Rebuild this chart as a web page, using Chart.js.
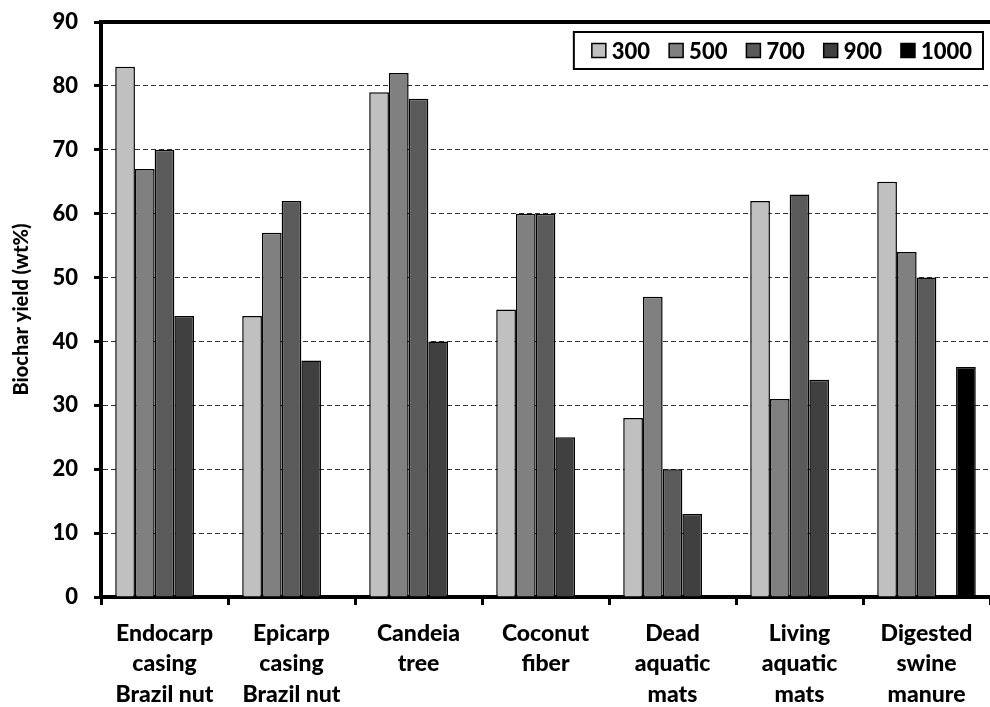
<!DOCTYPE html>
<html>
<head>
<meta charset="utf-8">
<script src="https://cdn.jsdelivr.net/npm/chart.js@4.4.1/dist/chart.umd.min.js"></script>
<style>
  html, body { margin: 0; padding: 0; background: #fff; }
  #wrap { width: 990px; height: 707px; }
</style>
</head>
<body>
<div id="wrap"><canvas id="c" width="990" height="707"></canvas></div>
<script>
// Feedstocks (multi-line category labels)
const feedstocks = [
  ['Endocarp', 'casing', 'Brazil nut'],
  ['Epicarp', 'casing', 'Brazil nut'],
  ['Candeia', 'tree'],
  ['Coconut', 'fiber'],
  ['Dead', 'aquatic', 'mats'],
  ['Living', 'aquatic', 'mats'],
  ['Digested', 'swine', 'manure']
];

// Pyrolysis temperatures (series names)
const temperatures = ['300', '500', '700', '900', '1000'];

// Biochar yield (wt%) per temperature, one value per feedstock
const yield300  = [83, 44, 79, 45, 28, 62, 65];
const yield500  = [67, 57, 82, 60, 47, 31, 54];
const yield700  = [70, 62, 78, 60, 20, 63, 50];
const yield900  = [44, 37, 40, 25, 13, 34, null];
const yield1000 = [null, null, null, null, null, null, 36];

const yTicks = { min: 0, max: 90, step: 10 };

const seriesValues = [yield300, yield500, yield700, yield900, yield1000];
const seriesColors = ['#c0c0c0', '#808080', '#5a5a5a', '#404040', '#000000'];

const FONT = "Lato, 'Liberation Sans', sans-serif";
const WEIGHT = '900';

// Legend box drawn inside the plot area, top-right
const innerLegend = {
  id: 'innerLegend',
  afterDraw(chart) {
    const ctx = chart.ctx;
    const area = chart.chartArea;
    const sets = chart.data.datasets;
    ctx.save();
    ctx.font = WEIGHT + ' 22px ' + FONT;
    const sq = 14, gapText = 6, gapItem = 19, padL = 18, padR = 11;
    let total = padL + padR;
    const widths = sets.map(d => ctx.measureText(d.label).width);
    widths.forEach((w, i) => { total += sq + gapText + w + (i < widths.length - 1 ? gapItem : 0); });
    const right = area.right - 7;
    const left = right - total;
    const top = area.top + 10;
    const h = 37;
    ctx.fillStyle = '#fff';
    ctx.fillRect(left, top, total, h);
    ctx.lineWidth = 2;
    ctx.strokeStyle = '#000';
    ctx.strokeRect(left, top, total, h);
    let x = left + padL;
    const cy = top + h / 2;
    sets.forEach((d, i) => {
      ctx.fillStyle = d.backgroundColor;
      ctx.fillRect(x, cy - sq / 2, sq, sq);
      ctx.lineWidth = 1.5;
      ctx.strokeStyle = '#000';
      ctx.strokeRect(x, cy - sq / 2, sq, sq);
      x += sq + gapText;
      ctx.fillStyle = '#000';
      ctx.textBaseline = 'middle';
      ctx.textAlign = 'left';
      ctx.fillText(d.label, x, cy + 1);
      x += widths[i] + gapItem;
    });
    ctx.restore();
  }
};

new Chart(document.getElementById('c'), {
  type: 'bar',
  data: {
    labels: feedstocks,
    datasets: temperatures.map((t, i) => ({
      label: t,
      data: seriesValues[i],
      backgroundColor: seriesColors[i],
      borderColor: '#000',
      borderWidth: 1.5,
      categoryPercentage: 0.776,
      barPercentage: 1.0,
      xAxisID: 'x',
      yAxisID: 'y'
    }))
  },
  options: {
    responsive: false,
    animation: false,
    devicePixelRatio: 1,
    layout: { padding: { top: 22, right: 0, left: 0, bottom: 0 } },
    plugins: {
      legend: { display: false },
      tooltip: { enabled: false }
    },
    scales: {
      x: {
        type: 'category',
        position: 'bottom',
        offset: true,
        grid: {
          display: true,
          offset: true,
          drawOnChartArea: false,
          drawTicks: true,
          tickLength: 8,
          tickColor: '#000',
          tickWidth: 3
        },
        border: { display: true, color: '#000', width: 4 },
        ticks: {
          color: '#000',
          font: { family: FONT, size: 23, weight: WEIGHT, lineHeight: 1.33 },
          maxRotation: 0,
          autoSkip: false,
          padding: 13
        },
        afterFit(scale) { scale.height = 110; }
      },
      xTop: {
        type: 'category',
        position: 'top',
        offset: true,
        grid: { display: false, drawTicks: false },
        ticks: { display: false },
        border: { display: true, color: '#000', width: 4 },
        afterFit(scale) { scale.height = 0; scale.paddingTop = 0; scale.paddingBottom = 0; }
      },
      y: {
        type: 'linear',
        position: 'left',
        min: yTicks.min,
        max: yTicks.max,
        ticks: {
          stepSize: yTicks.step,
          color: '#000',
          font: { family: FONT, size: 22, weight: WEIGHT },
          padding: 16
        },
        grid: {
          color: ctx => (ctx.tick && (ctx.tick.value === yTicks.min || ctx.tick.value === yTicks.max)) ? 'rgba(0,0,0,0)' : '#333',
          lineWidth: 1,
          drawTicks: true,
          tickLength: 7,
          tickColor: '#000',
          tickWidth: 3
        },
        border: { display: true, color: '#000', width: 4, dash: [5, 3] },
        title: {
          display: true,
          text: 'Biochar yield (wt%)',
          color: '#000',
          font: { family: FONT, size: 20, weight: WEIGHT },
          padding: { top: 10, bottom: 0 }
        },
        afterFit(scale) { scale.width = 101; scale.paddingTop = 0; scale.paddingBottom = 0; }
      }
    }
  },
  plugins: [innerLegend]
});
</script>
</body>
</html>
